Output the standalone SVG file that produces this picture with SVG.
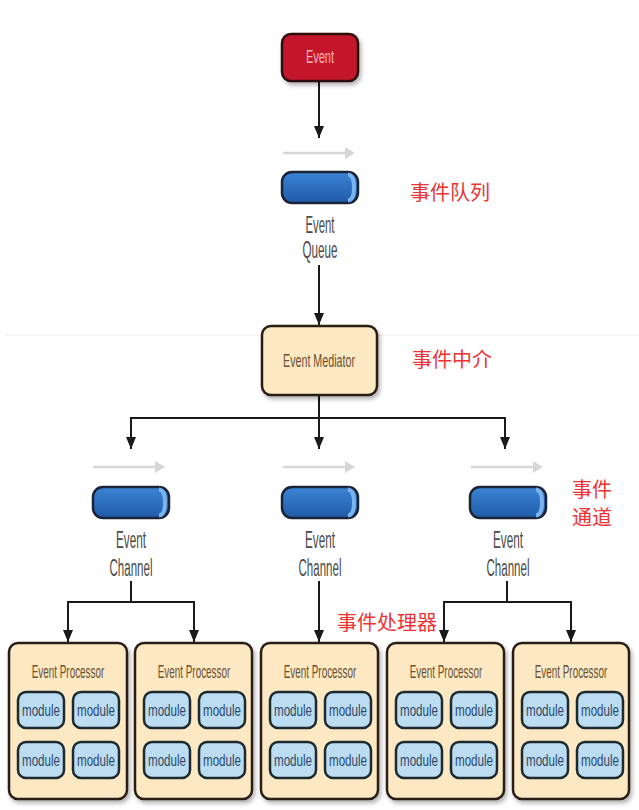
<svg xmlns="http://www.w3.org/2000/svg" width="639" height="810" viewBox="0 0 639 810">
<defs>
<style>
.en{font-family:"Liberation Sans","DejaVu Sans",sans-serif;text-anchor:middle}
.lbl{fill:#4a4a4a;font-size:23px}
.box{fill:#fce8c2;stroke:#2a1d14;stroke-width:2.5}
.boxt{fill:#6b5233;font-size:18px}
.mod{fill:#bcdcf2;stroke:#1c2a30;stroke-width:2.5}
.modt{fill:#2c4a68;font-size:17px}
.cn{font-family:"Noto Sans CJK SC","Noto Sans",sans-serif;fill:#ee3333;font-size:20px}
.conn{stroke:#1a1a1a;stroke-width:2;fill:none}
.flow{stroke:#d6d6d6;stroke-width:2.5}
.flowh{fill:#d6d6d6}
</style>
<linearGradient id="pipe" x1="0" y1="0" x2="0" y2="1">
<stop offset="0" stop-color="#3b84d4"/>
<stop offset="1" stop-color="#1f5ba8"/>
</linearGradient>
<filter id="sh" x="-10%" y="-10%" width="130%" height="130%">
<feDropShadow dx="2" dy="3" stdDeviation="2" flood-color="#000" flood-opacity="0.3"/>
</filter>
<marker id="ah" viewBox="0 0 12 10" refX="12" refY="5" markerWidth="12" markerHeight="10" markerUnits="userSpaceOnUse" orient="auto-start-reverse">
<path d="M0,0 L12,5 L0,10 Z" fill="#1a1a1a"/>
</marker>
<g id="pipeShape">
<rect x="0" y="0" width="76" height="31" rx="10" fill="url(#pipe)" stroke="#1a2436" stroke-width="2.5"/>
<path d="M66,2.5 Q72,3 72,15.5 Q72,28 66,28.5" fill="none" stroke="#7ab4ee" stroke-width="4"/>
</g>
<g id="flowArrow">
<line x1="0" y1="0" x2="64" y2="0" class="flow"/>
<path d="M62,-6 L72,0 L62,6 Z" class="flowh"/>
</g>
<g id="modules">
<rect x="18" y="692" width="46" height="36" rx="8" class="mod"/>
<rect x="73" y="692" width="46" height="36" rx="8" class="mod"/>
<rect x="18" y="742" width="46" height="36" rx="8" class="mod"/>
<rect x="73" y="742" width="46" height="36" rx="8" class="mod"/>
<text x="41" y="716" class="en modt" textLength="38" lengthAdjust="spacingAndGlyphs">module</text>
<text x="96" y="716" class="en modt" textLength="38" lengthAdjust="spacingAndGlyphs">module</text>
<text x="41" y="766" class="en modt" textLength="38" lengthAdjust="spacingAndGlyphs">module</text>
<text x="96" y="766" class="en modt" textLength="38" lengthAdjust="spacingAndGlyphs">module</text>
</g>
</defs>
<rect width="639" height="810" fill="#ffffff"/>
<line x1="5" y1="335" x2="639" y2="335" stroke="#ececec" stroke-width="1"/>

<g id="connectors">
<line x1="319" y1="82" x2="319" y2="138" class="conn" marker-end="url(#ah)"/>
<line x1="319" y1="265" x2="319" y2="325" class="conn" marker-end="url(#ah)"/>
<polyline points="319,395 319,418" class="conn"/>
<polyline points="131,449 131,418 505,418 505,449" class="conn" marker-start="url(#ah)" marker-end="url(#ah)"/>
<line x1="319" y1="418" x2="319" y2="449" class="conn" marker-end="url(#ah)"/>
<polyline points="131,581 131,602" class="conn"/>
<polyline points="68,642 68,602 194,602 194,642" class="conn" marker-start="url(#ah)" marker-end="url(#ah)"/>
<line x1="319" y1="581" x2="319" y2="642" class="conn" marker-end="url(#ah)"/>
<polyline points="507,581 507,602" class="conn"/>
<polyline points="444,642 444,602 571,602 571,642" class="conn" marker-start="url(#ah)" marker-end="url(#ah)"/>
</g>

<g id="event">
<rect x="282" y="34" width="76" height="47" rx="9" fill="#c4162c" stroke="#2a0a0e" stroke-width="2.5" filter="url(#sh)"/>
<text x="320" y="63" class="en" font-size="18" fill="#f6b4b8" textLength="28" lengthAdjust="spacingAndGlyphs">Event</text>
</g>

<g id="event-queue">
<use href="#flowArrow" x="283" y="153"/>
<use href="#pipeShape" x="282" y="172"/>
<text x="320" y="233" class="en lbl" textLength="29" lengthAdjust="spacingAndGlyphs">Event</text>
<text x="320" y="258" class="en lbl" textLength="35" lengthAdjust="spacingAndGlyphs">Queue</text>
<text x="410" y="200" class="cn">事件队列</text>
</g>

<g id="event-mediator">
<rect x="262" y="326" width="115" height="69" rx="9" class="box" filter="url(#sh)"/>
<text x="319" y="367" class="en boxt" textLength="72" lengthAdjust="spacingAndGlyphs">Event Mediator</text>
<text x="412" y="367" class="cn">事件中介</text>
</g>

<g id="channel-1">
<use href="#flowArrow" x="93" y="467"/>
<use href="#pipeShape" x="93" y="487"/>
<text x="131" y="548" class="en lbl" textLength="30" lengthAdjust="spacingAndGlyphs">Event</text>
<text x="131" y="576" class="en lbl" textLength="43" lengthAdjust="spacingAndGlyphs">Channel</text>
</g>
<g id="channel-2">
<use href="#flowArrow" x="283" y="467"/>
<use href="#pipeShape" x="282" y="487"/>
<text x="320" y="548" class="en lbl" textLength="30" lengthAdjust="spacingAndGlyphs">Event</text>
<text x="320" y="576" class="en lbl" textLength="43" lengthAdjust="spacingAndGlyphs">Channel</text>
</g>
<g id="channel-3">
<use href="#flowArrow" x="471" y="467"/>
<use href="#pipeShape" x="470" y="487"/>
<text x="508" y="548" class="en lbl" textLength="30" lengthAdjust="spacingAndGlyphs">Event</text>
<text x="508" y="576" class="en lbl" textLength="43" lengthAdjust="spacingAndGlyphs">Channel</text>
<text x="572" y="497" class="cn">事件</text>
<text x="572" y="525" class="cn">通道</text>
</g>

<g id="processor-1">
<rect x="9" y="643" width="118" height="156" rx="9" class="box" filter="url(#sh)"/>
<text transform="translate(68,678) scale(0.55,1)" class="en boxt">Event Processor</text>
<use href="#modules" x="0"/>
</g>
<g id="processor-2">
<rect x="135" y="643" width="117" height="156" rx="9" class="box" filter="url(#sh)"/>
<text transform="translate(194,678) scale(0.55,1)" class="en boxt">Event Processor</text>
<use href="#modules" x="126"/>
</g>
<g id="processor-3">
<rect x="261" y="643" width="117" height="156" rx="9" class="box" filter="url(#sh)"/>
<text transform="translate(320,678) scale(0.55,1)" class="en boxt">Event Processor</text>
<use href="#modules" x="252"/>
<text x="337" y="630" class="cn">事件处理器</text>
</g>
<g id="processor-4">
<rect x="387" y="643" width="117" height="156" rx="9" class="box" filter="url(#sh)"/>
<text transform="translate(446,678) scale(0.55,1)" class="en boxt">Event Processor</text>
<use href="#modules" x="378"/>
</g>
<g id="processor-5">
<rect x="513" y="643" width="116" height="156" rx="9" class="box" filter="url(#sh)"/>
<text transform="translate(571,678) scale(0.55,1)" class="en boxt">Event Processor</text>
<use href="#modules" x="504"/>
</g>
</svg>
